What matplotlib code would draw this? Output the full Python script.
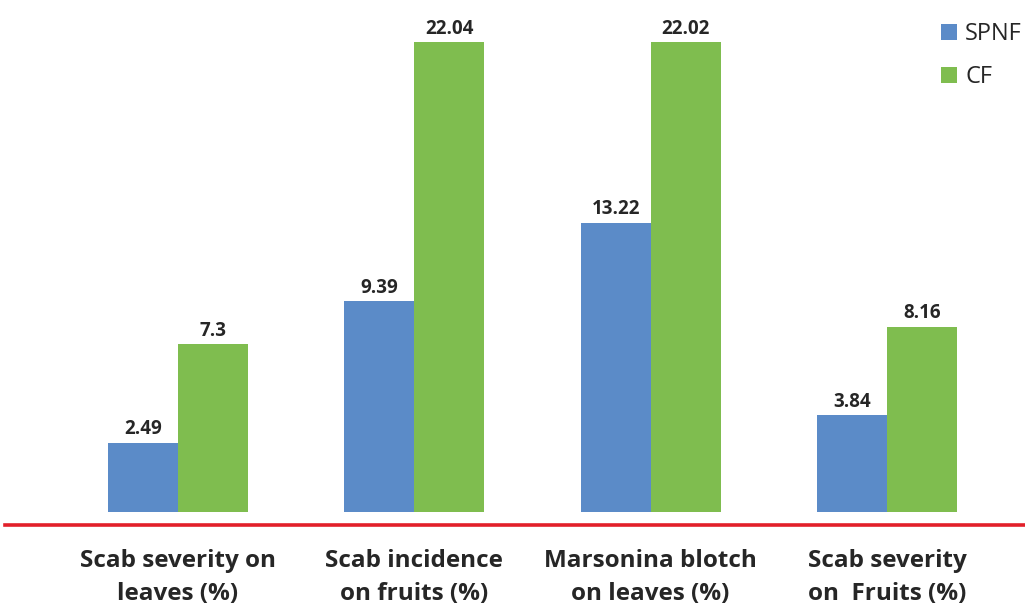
import matplotlib
matplotlib.use("Agg")
import matplotlib.pyplot as plt
from matplotlib.lines import Line2D
import numpy as np

categories = ["Scab severity on\nleaves (%)", "Scab incidence\non fruits (%)",
              "Marsonina blotch\non leaves (%)", "Scab severity\non  Fruits (%)"]
spnf = [2.49, 9.39, 13.22, 3.84]
cf = [7.3, 22.04, 22.02, 8.16]
series_names = ["SPNF", "CF"]

blue = "#5B8BC8"
green = "#7FBD4F"
red = "#E2202A"
text_col = "#262626"

fig = plt.figure(figsize=(10.25, 6.06), dpi=100)
ax = fig.add_axes([0, (606-512)/606, 1, 512/606])
ymin, ymax = -0.88, 24.09
ax.set_ylim(ymin, ymax)
ax.set_xlim(-0.753, 3.584)

x = np.arange(len(categories))
w = 0.296
ax.bar(x - w/2, np.array(spnf) - ymin, w, bottom=ymin, color=blue, label=series_names[0])
ax.bar(x + w/2, np.array(cf) - ymin, w, bottom=ymin, color=green, label=series_names[1])

fn = "Open Sans"
for xs, vals in ((x - w/2, spnf), (x + w/2, cf)):
    for xi, v in zip(xs, vals):
        ax.annotate(f"{v:g}", (xi, v), xytext=(0, 2.5), textcoords="offset points",
                    ha="center", va="bottom", fontsize=13.5, fontweight="bold",
                    color=text_col, family=fn)

for s in ax.spines.values():
    s.set_visible(False)
ax.set_xticks([])
ax.set_yticks([])

# red baseline
fig.add_artist(Line2D([5/1025, 1.0], [1 - 524.5/606, 1 - 524.5/606], color=red, lw=2.6,
                      transform=fig.transFigure))

for xi, c in zip(x, categories):
    fx = (178 + 236.3 * xi) / 1025
    fig.text(fx, 1 - 577.5/606, c, ha="center", va="center", fontsize=17.5,
             fontweight="bold", color=text_col, family=fn,
             linespacing=1.5)

leg = ax.legend(loc="upper right", bbox_to_anchor=(1.005, 0.973), frameon=False,
                handlelength=0.68, handleheight=0.68, labelspacing=0.82,
                handletextpad=0.34, borderaxespad=0.0, borderpad=0.35,
                prop={"family": fn, "size": 17})
for t in leg.get_texts():
    t.set_color(text_col)

fig.savefig("out.png", dpi=100)
